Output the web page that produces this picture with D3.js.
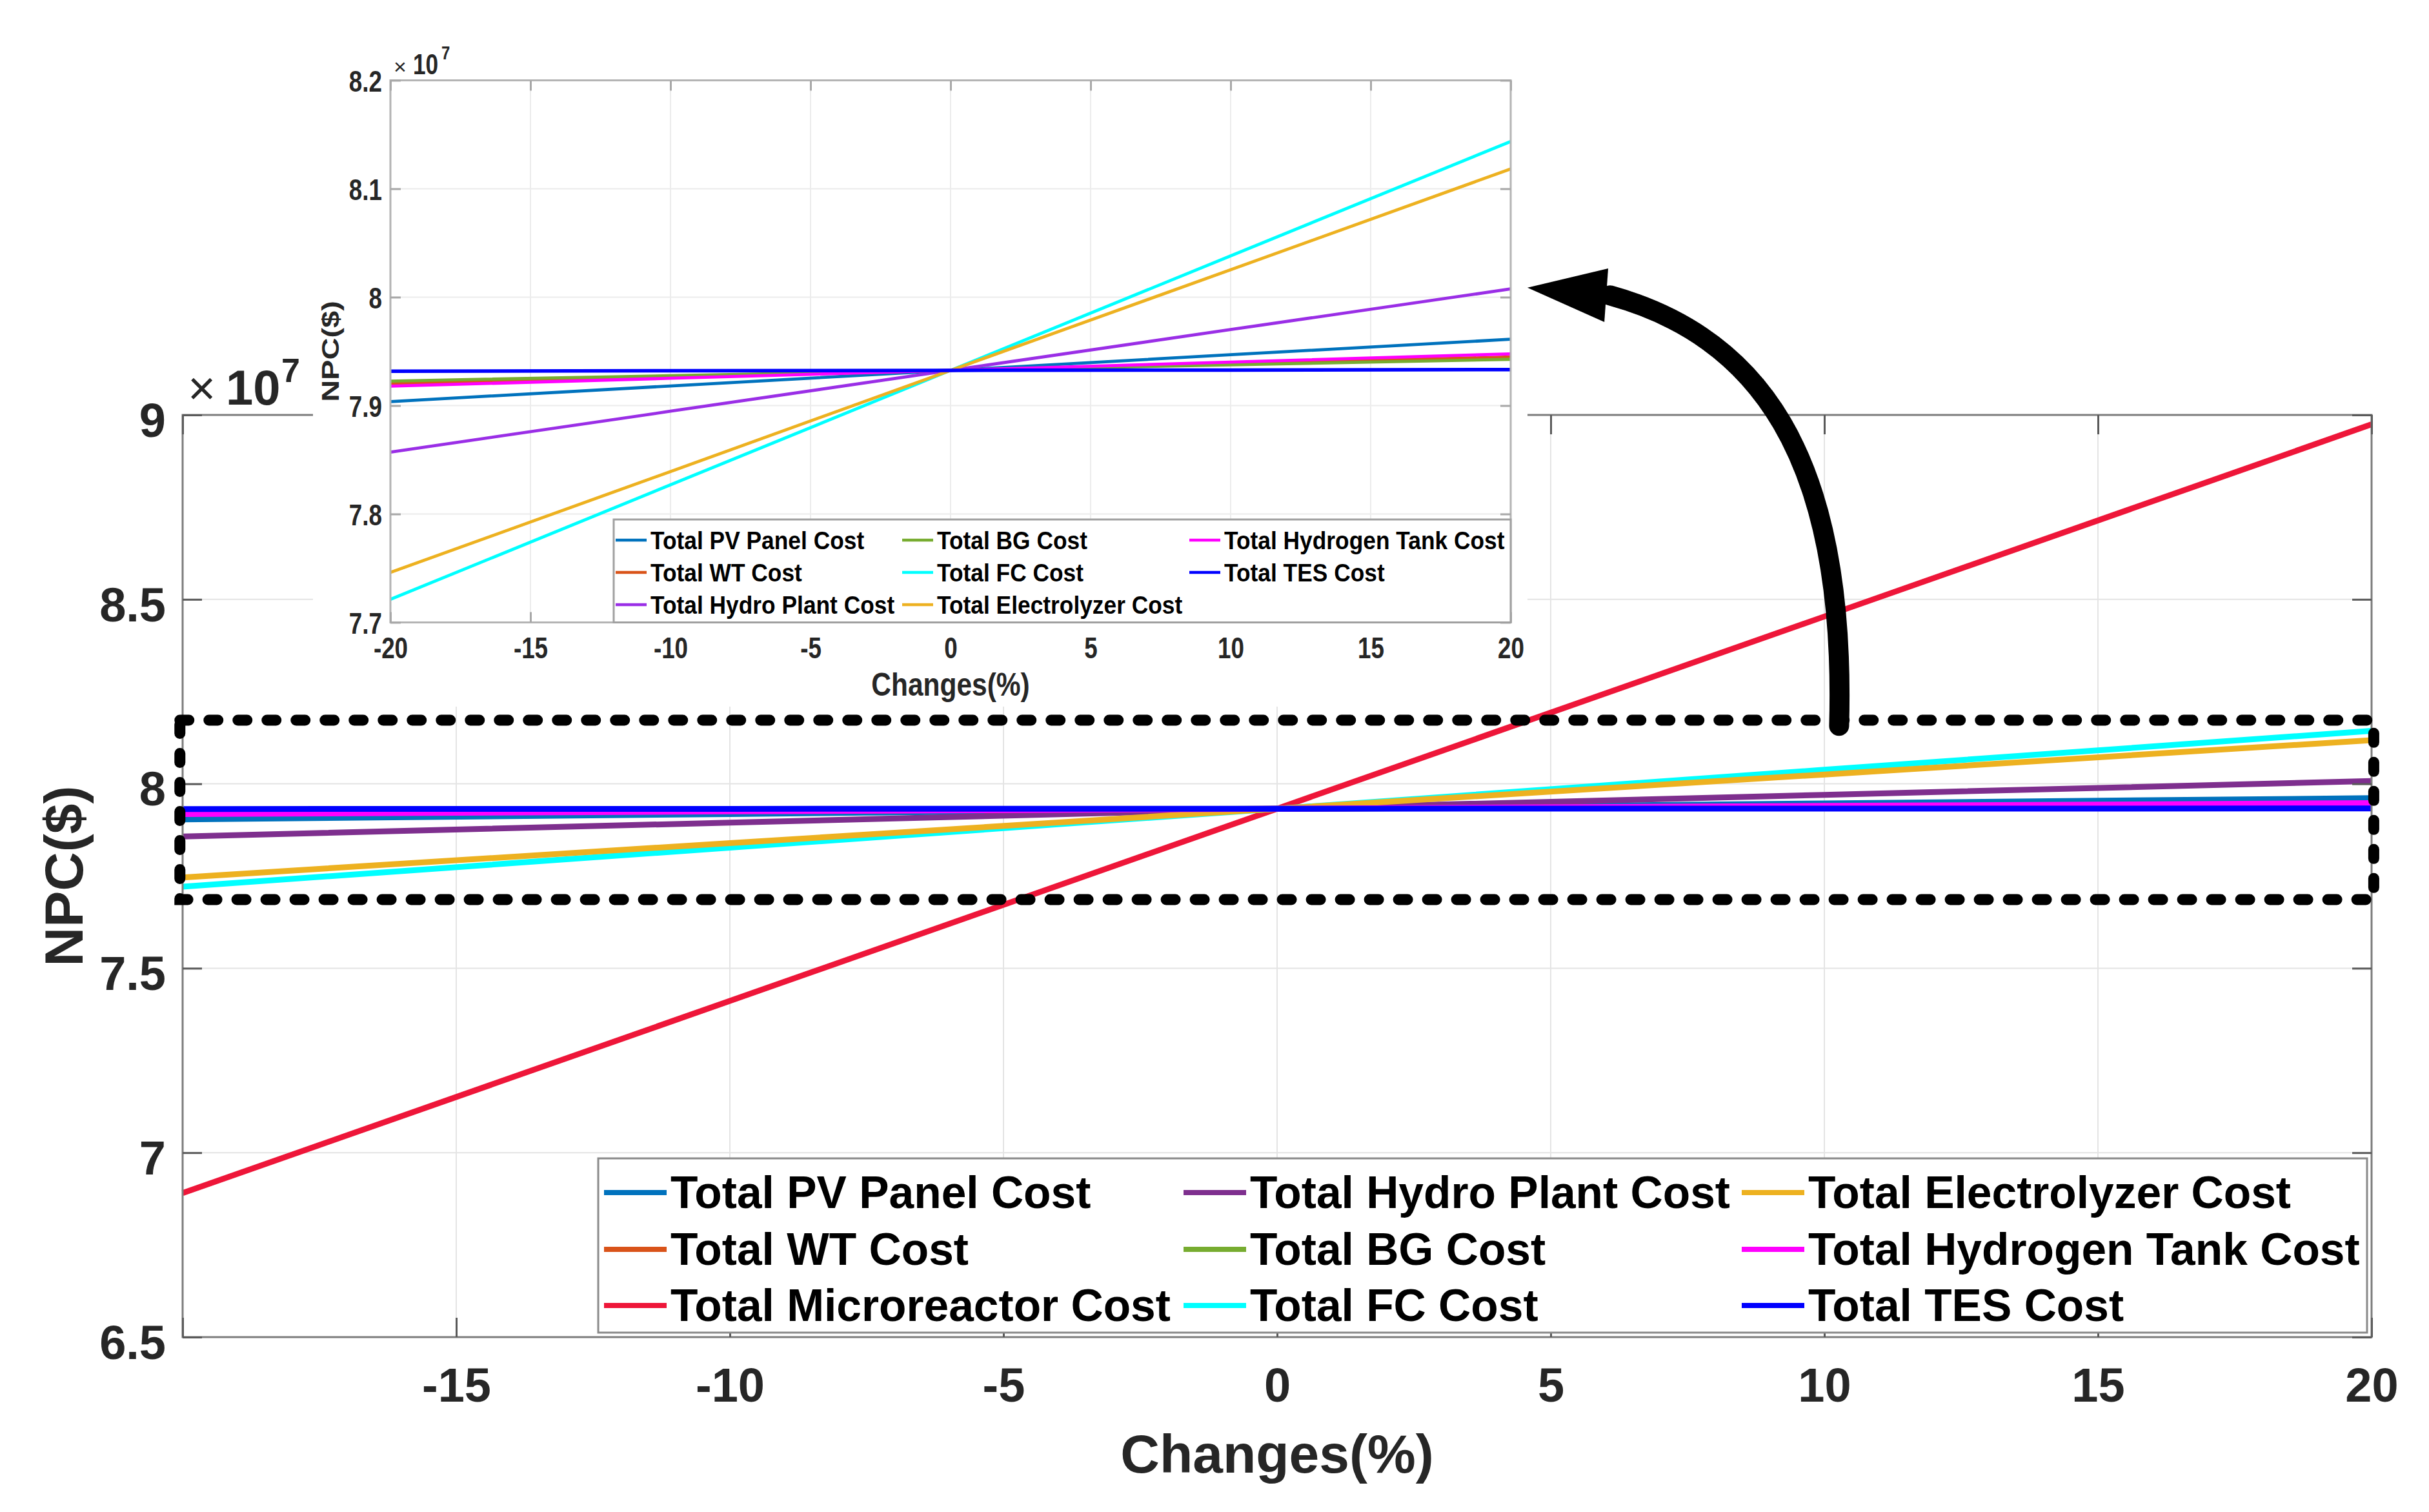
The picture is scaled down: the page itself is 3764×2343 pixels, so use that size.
<!DOCTYPE html>
<html><head><meta charset="utf-8">
<script src="https://cdn.jsdelivr.net/npm/d3@7"></script>
<style>
html,body{margin:0;padding:0;background:#fff;}
svg{display:block;}
text{font-family:"Liberation Sans", Arial, Helvetica, sans-serif;}
</style>
</head><body>
<svg id="c" width="3764" height="2343"></svg>
<script>
// ---------------- DATA (NPC in units of 10^7 $) ----------------
const changes = [-20, -10, 0, 10, 20];
const seriesNames = ["Total PV Panel Cost","Total WT Cost","Total Microreactor Cost","Total Hydro Plant Cost","Total BG Cost","Total FC Cost","Total Electrolyzer Cost","Total Hydrogen Tank Cost","Total TES Cost"];
const pvPanelCost      = [7.9037, 7.9181, 7.9325, 7.9469, 7.9612];
const wtCost           = [7.9202, 7.9263, 7.9325, 7.9387, 7.9448];
const microreactorCost = [6.8905, 7.4115, 7.9325, 8.4535, 8.9745];
const hydroPlantCost   = [7.8571, 7.8948, 7.9325, 7.9701, 8.0076];
const bgCost           = [7.9226, 7.9276, 7.9325, 7.9376, 7.9427];
const fcCost           = [7.7213, 7.8269, 7.9325, 8.0381, 8.1436];
const electrolyzerCost = [7.7461, 7.8392, 7.9325, 8.0253, 8.1183];
const hydrogenTankCost = [7.9179, 7.9252, 7.9325, 7.9401, 7.9477];
const tesCost          = [7.9317, 7.9321, 7.9325, 7.9328, 7.9332];
const mainSeriesValues = [pvPanelCost, wtCost, microreactorCost, hydroPlantCost, bgCost, fcCost, electrolyzerCost, hydrogenTankCost, tesCost];
const mainColors  = ["#0072BD","#D95319","#EE1639","#7E2F8E","#77AC30","#00FFFF","#EDB120","#FF00FF","#0000FF"];
// inset (zoom) shows every series except the microreactor
const insetNames  = ["Total PV Panel Cost","Total WT Cost","Total Hydro Plant Cost","Total BG Cost","Total FC Cost","Total Electrolyzer Cost","Total Hydrogen Tank Cost","Total TES Cost"];
const insetValues = [pvPanelCost, wtCost, hydroPlantCost, bgCost, fcCost, electrolyzerCost, hydrogenTankCost, tesCost];
const insetColors = ["#0072BD","#D95319","#9A2EE6","#77AC30","#00FFFF","#EDB120","#FF00FF","#0000FF"];

const mainXTicks = [-20,-15,-10,-5,0,5,10,15,20];
const mainXTickLabels = ["","-15","-10","-5","0","5","10","15","20"];
const mainYTicks = [6.5,7,7.5,8,8.5,9];
const mainYTickLabels = ["6.5","7","7.5","8","8.5","9"];
const insetXTicks = [-20,-15,-10,-5,0,5,10,15,20];
const insetXTickLabels = ["-20","-15","-10","-5","0","5","10","15","20"];
const insetYTicks = [7.7,7.8,7.9,8,8.1,8.2];
const insetYTickLabels = ["7.7","7.8","7.9","8","8.1","8.2"];
// zoom box (data units of main axes) and arrow annotation (main axes data units)
const zoomBoxX = [-20.05, 20.04];
const zoomBoxY = [7.686, 8.1725];
const arrowCurve = [[10.27,8.157],[10.41,8.90],[8.74,9.215],[6.085,9.324]];
const arrowHead = [[4.575,9.345],[6.05,9.397],[5.98,9.252]];

// ---------------- DRAW ----------------
const TXT = "#262626";
const svg = d3.select("#c");
svg.append("rect").attr("width",3764).attr("height",2343).attr("fill","#fff");

const xM = d3.scaleLinear().domain([-20,20]).range([283,3675]);
const yM = d3.scaleLinear().domain([6.5,9]).range([2072,643]);

const gM = svg.append("g");
// grid
gM.append("g").selectAll("line").data(mainXTicks).join("line")
  .attr("x1",d=>xM(d)).attr("x2",d=>xM(d)).attr("y1",yM(9)).attr("y2",yM(6.5))
  .attr("stroke","#e4e4e4").attr("stroke-width",2);
gM.append("g").selectAll("line").data(mainYTicks).join("line")
  .attr("y1",d=>yM(d)).attr("y2",d=>yM(d)).attr("x1",xM(-20)).attr("x2",xM(20))
  .attr("stroke","#e4e4e4").attr("stroke-width",2);

// lines
const lineM = d3.line().x((d,i)=>xM(changes[i])).y(d=>yM(d));
gM.append("g").selectAll("path").data(mainSeriesValues).join("path")
  .attr("d",d=>lineM(d)).attr("fill","none")
  .attr("stroke",(d,i)=>mainColors[i]).attr("stroke-width",9);

// box
gM.append("rect").attr("x",xM(-20)).attr("y",yM(9)).attr("width",xM(20)-xM(-20)).attr("height",yM(6.5)-yM(9))
  .attr("fill","none").attr("stroke","#7d7d7d").attr("stroke-width",3);

// axes
function styleAxis(g){ g.select(".domain").remove(); g.selectAll(".tick line").attr("stroke","#5a5a5a").attr("stroke-width",3); }
const axB = gM.append("g").attr("transform",`translate(0,${yM(6.5)})`)
  .call(d3.axisBottom(xM).tickValues(mainXTicks).tickFormat((d,i)=>mainXTickLabels[i]).tickSizeInner(-30).tickSizeOuter(0).tickPadding(47));
styleAxis(axB);
axB.selectAll("text").attr("font-size",74).attr("font-weight","bold").attr("fill",TXT).attr("font-family",null);
const axT = gM.append("g").attr("transform",`translate(0,${yM(9)})`)
  .call(d3.axisTop(xM).tickValues(mainXTicks).tickFormat("").tickSizeInner(-30).tickSizeOuter(0));
styleAxis(axT);
const axL = gM.append("g").attr("transform",`translate(${xM(-20)},0)`)
  .call(d3.axisLeft(yM).tickValues(mainYTicks).tickFormat((d,i)=>mainYTickLabels[i]).tickSizeInner(-30).tickSizeOuter(0).tickPadding(26));
styleAxis(axL);
axL.selectAll("text").attr("font-size",74).attr("font-weight","bold").attr("fill",TXT).attr("dy","0.45em").attr("font-family",null);
const axR = gM.append("g").attr("transform",`translate(${xM(20)},0)`)
  .call(d3.axisRight(yM).tickValues(mainYTicks).tickFormat("").tickSizeInner(-30).tickSizeOuter(0));
styleAxis(axR);

// titles
gM.append("text").attr("x",xM(0)).attr("y",2282).attr("text-anchor","middle")
  .attr("font-size",84).attr("font-weight","bold").attr("fill",TXT).text("Changes(%)");
gM.append("text").attr("transform",`translate(128,${(yM(6.5)+yM(9))/2}) rotate(-90)`).attr("text-anchor","middle")
  .attr("font-size",84).attr("font-weight","bold").attr("fill",TXT).text("NPC($)");
// exponent
gM.append("text").attr("x",291).attr("y",627).attr("font-size",74).attr("fill",TXT).text("×");
gM.append("text").attr("x",350).attr("y",627).attr("font-size",76).attr("font-weight","bold").attr("fill",TXT).text("10");
gM.append("text").attr("x",436).attr("y",592).attr("font-size",52).attr("font-weight","bold").attr("fill",TXT).text("7");

// main legend
const lgM = gM.append("g");
lgM.append("rect").attr("x",927).attr("y",1795).attr("width",3668-927).attr("height",2065-1795)
  .attr("fill","#fff").attr("stroke","#8a8a8a").attr("stroke-width",3);
const lgColX = [1039, 1937, 2802], lgRowY = [1872, 1960, 2047];
seriesNames.forEach((name,i)=>{
  const c = Math.floor(i/3), r = i%3;
  const tx = lgColX[c], ty = lgRowY[r];
  lgM.append("line").attr("x1",tx-103).attr("x2",tx-6).attr("y1",ty-24).attr("y2",ty-24)
    .attr("stroke",mainColors[i]).attr("stroke-width",8);
  lgM.append("text").attr("x",tx).attr("y",ty).attr("font-size",69.5).attr("font-weight","bold").attr("fill","#000").text(name);
});

// ---------------- INSET ----------------
const gI = svg.append("g");
gI.append("rect").attr("x",485).attr("y",50).attr("width",2367-485).attr("height",1095-50).attr("fill","#fff");
const xI = d3.scaleLinear().domain([-20,20]).range([605,2341]);
const yI = d3.scaleLinear().domain([7.7,8.2]).range([964.5,124.5]);
function ctext(parent,x,y,str,size,sx,anchor,weight){
  return parent.append("text").attr("transform",`translate(${x},${y}) scale(${sx},1)`)
    .attr("text-anchor",anchor).attr("font-size",size).attr("font-weight",weight).attr("fill",TXT).text(str);
}
gI.append("g").selectAll("line").data(insetXTicks).join("line")
  .attr("x1",d=>xI(d)).attr("x2",d=>xI(d)).attr("y1",yI(8.2)).attr("y2",yI(7.7))
  .attr("stroke","#ececec").attr("stroke-width",2);
gI.append("g").selectAll("line").data(insetYTicks).join("line")
  .attr("y1",d=>yI(d)).attr("y2",d=>yI(d)).attr("x1",xI(-20)).attr("x2",xI(20))
  .attr("stroke","#ececec").attr("stroke-width",2);
const lineI = d3.line().x((d,i)=>xI(changes[i])).y(d=>yI(d));
gI.append("g").selectAll("path").data(insetValues).join("path")
  .attr("d",d=>lineI(d)).attr("fill","none")
  .attr("stroke",(d,i)=>insetColors[i]).attr("stroke-width",(d,i)=>i===7?5.5:4.8);
gI.append("rect").attr("x",xI(-20)).attr("y",yI(8.2)).attr("width",xI(20)-xI(-20)).attr("height",yI(7.7)-yI(8.2))
  .attr("fill","none").attr("stroke","#b4b4b4").attr("stroke-width",3);
function styleAxisI(g){ g.select(".domain").remove(); g.selectAll(".tick line").attr("stroke","#a8a8a8").attr("stroke-width",3); }
const iB = gI.append("g").attr("transform",`translate(0,${yI(7.7)})`)
  .call(d3.axisBottom(xI).tickValues(insetXTicks).tickFormat((d,i)=>insetXTickLabels[i]).tickSizeInner(-16).tickSizeOuter(0).tickPadding(23));
styleAxisI(iB);
iB.selectAll("text").attr("font-size",46).attr("font-weight","bold").attr("fill",TXT).attr("font-family",null).attr("transform","scale(0.8,1)");
const iT = gI.append("g").attr("transform",`translate(0,${yI(8.2)})`)
  .call(d3.axisTop(xI).tickValues(insetXTicks).tickFormat("").tickSizeInner(-16).tickSizeOuter(0));
styleAxisI(iT);
const iL = gI.append("g").attr("transform",`translate(${xI(-20)},0)`)
  .call(d3.axisLeft(yI).tickValues(insetYTicks).tickFormat((d,i)=>insetYTickLabels[i]).tickSizeInner(-16).tickSizeOuter(0).tickPadding(13));
styleAxisI(iL);
iL.selectAll("text").attr("font-size",46).attr("font-weight","bold").attr("fill",TXT).attr("font-family",null)
  .attr("dy","0.37em").attr("x",-13/0.8).attr("transform","scale(0.8,1)");
const iR = gI.append("g").attr("transform",`translate(${xI(20)},0)`)
  .call(d3.axisRight(yI).tickValues(insetYTicks).tickFormat("").tickSizeInner(-16).tickSizeOuter(0));
styleAxisI(iR);
ctext(gI, xI(0), 1078, "Changes(%)", 50, 0.85, "middle", "bold");
gI.append("text").attr("transform",`translate(525,${(yI(7.7)+yI(8.2))/2}) rotate(-90) scale(1,0.8)`).attr("text-anchor","middle")
  .attr("font-size",47).attr("font-weight","bold").attr("fill",TXT).text("NPC($)");
ctext(gI, 610, 115, "×", 34, 1, "start", "normal");
ctext(gI, 640, 115, "10", 44, 0.8, "start", "bold");
ctext(gI, 684, 92, "7", 30, 0.8, "start", "bold");
// inset legend
const lgI = gI.append("g");
lgI.append("rect").attr("x",951).attr("y",805).attr("width",2341-951).attr("height",964.5-805)
  .attr("fill","#fff").attr("stroke","#a0a0a0").attr("stroke-width",3);
const lgIColX = [1008, 1452, 1897], lgIRowY = [851, 901, 951];
insetNames.forEach((name,i)=>{
  const c = Math.floor(i/3), r = i%3;
  const tx = lgIColX[c], ty = lgIRowY[r];
  lgI.append("line").attr("x1",tx-54).attr("x2",tx-6).attr("y1",ty-14).attr("y2",ty-14)
    .attr("stroke",insetColors[i]).attr("stroke-width",4.5);
  ctext(lgI, tx, ty, name, 38, 0.93, "start", "bold").attr("fill","#000");
});

// ---------------- ANNOTATIONS ----------------
const gA = svg.append("g");
const zx0 = xM(zoomBoxX[0]), zx1 = xM(zoomBoxX[1]), zy0 = yM(zoomBoxY[1]), zy1 = yM(zoomBoxY[0]);
gA.append("rect").attr("x",zx0).attr("y",zy0).attr("width",zx1-zx0).attr("height",zy1-zy0)
  .attr("fill","none").attr("stroke","#000").attr("stroke-width",17)
  .attr("stroke-dasharray","14 31").attr("stroke-linecap","round");
const p = d3.path();
const ac = arrowCurve.map(d=>[xM(d[0]), yM(d[1])]);
p.moveTo(ac[0][0],ac[0][1]);
p.bezierCurveTo(ac[1][0],ac[1][1],ac[2][0],ac[2][1],ac[3][0],ac[3][1]);
gA.append("path").attr("d",p.toString()).attr("fill","none").attr("stroke","#000")
  .attr("stroke-width",31).attr("stroke-linecap","round");
gA.append("path").attr("d",d3.line()(arrowHead.map(d=>[xM(d[0]),yM(d[1])]))+"Z").attr("fill","#000");
</script>
</body></html>
